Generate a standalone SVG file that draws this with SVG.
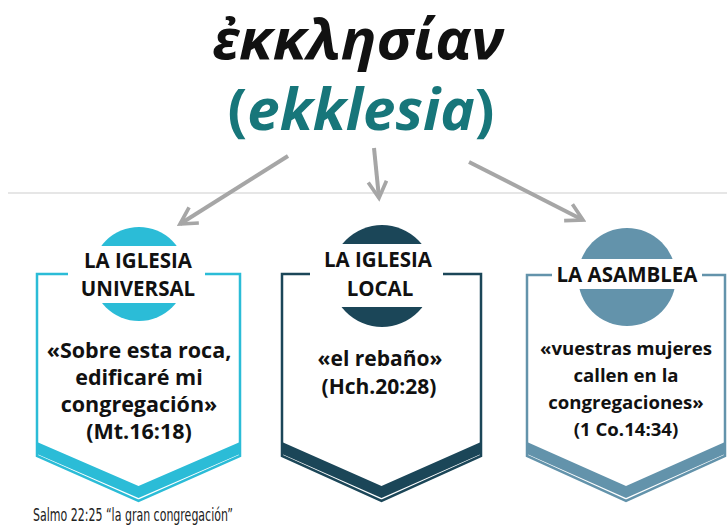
<svg xmlns="http://www.w3.org/2000/svg" width="727" height="529" viewBox="0 0 727 529">
<style>
.hd{font-family:"Open Sans","Noto Sans",sans-serif;font-weight:bold;font-size:20.5px;fill:#111;text-anchor:middle}
.bd{font-family:"Open Sans","Noto Sans",sans-serif;font-weight:bold;fill:#111;text-anchor:middle}
.b1{font-size:21.5px}
.b2{font-size:21px}
.b3{font-size:18.6px}
.frame{fill:none;stroke-width:2.5}
.arr{fill:none;stroke:#a6a6a6;stroke-width:4;stroke-linecap:butt}
</style>
<defs>
<marker id="ah" viewBox="0 0 12 12" refX="10" refY="6" markerWidth="5.5" markerHeight="5.5" orient="auto" markerUnits="strokeWidth">
<path d="M1,1 L10,6 L1,11" fill="none" stroke="#a6a6a6" stroke-width="2"/>
</marker>
</defs>
<rect width="727" height="529" fill="#fff"/>
<line x1="8" y1="193" x2="727" y2="193" stroke="#dedede" stroke-width="1.5"/>
<g id="title">
<text x="358" y="59" font-family="'Open Sans','Noto Sans',sans-serif" font-weight="bold" font-style="italic" font-size="55" fill="#111" text-anchor="middle" textLength="292" lengthAdjust="spacingAndGlyphs">ἐκκλησίαν</text>
<text x="361" y="130" font-family="'Open Sans','Noto Sans',sans-serif" font-weight="bold" font-size="57" fill="#17767a" text-anchor="middle" textLength="267" lengthAdjust="spacingAndGlyphs">(<tspan font-style="italic">ekklesia</tspan>)</text>
</g>
<g id="connectors">
<line class="arr" x1="288" y1="156" x2="180" y2="224" marker-end="url(#ah)"/>
<line class="arr" x1="374" y1="148" x2="379" y2="198" marker-end="url(#ah)"/>
<line class="arr" x1="469" y1="162" x2="583" y2="220" marker-end="url(#ah)"/>
</g>
<g id="node-universal">
<circle cx="139" cy="274" r="47" fill="#2bbcd7"/>
<rect x="68" y="246" width="137" height="57" fill="#fff"/>
<path class="frame" stroke="#2bbcd7" d="M68,274 H37 V456 L138.5,501 L240,456 V274 H205"/>
<polygon fill="#2bbcd7" points="37,442 138.5,486 240,442 240,454 138.5,498 37,454"/>
<text class="hd" x="138" y="268">LA IGLESIA</text>
<text class="hd" x="138" y="296">UNIVERSAL</text>
<text class="bd b1" x="139" y="358">«Sobre esta roca,</text>
<text class="bd b1" x="139" y="385">edificaré mi</text>
<text class="bd b1" x="139" y="412">congregación»</text>
<text class="bd b1" x="139" y="439">(Mt.16:18)</text>
</g>
<g id="node-local">
<circle cx="382" cy="276" r="51" fill="#1b4658"/>
<rect x="310" y="244" width="133" height="63" fill="#fff"/>
<path class="frame" stroke="#1b4658" d="M310,274 H282 V456 L381.5,501 L481,456 V274 H443"/>
<polygon fill="#1b4658" points="282,442 381.5,486 481,442 481,454 381.5,498 282,454"/>
<text class="hd" x="378" y="267">LA IGLESIA</text>
<text class="hd" x="380" y="296">LOCAL</text>
<text class="bd b2" x="380" y="366">«el rebaño»</text>
<text class="bd b2" x="379" y="394">(Hch.20:28)</text>
</g>
<g id="node-asamblea">
<circle cx="627" cy="277" r="49" fill="#6393ab"/>
<rect x="552" y="259" width="150" height="30" fill="#fff"/>
<path class="frame" stroke="#6393ab" d="M552,275 H527 V456 L626,501 L725,456 V275 H702"/>
<polygon fill="#6393ab" points="527,442 626,486 725,442 725,454 626,498 527,454"/>
<text class="hd" x="627" y="282">LA ASAMBLEA</text>
<text class="bd b3" x="626" y="355">«vuestras mujeres</text>
<text class="bd b3" x="626" y="382">callen en la</text>
<text class="bd b3" x="626" y="409">congregaciones»</text>
<text class="bd b3" x="626" y="436">(1 Co.14:34)</text>
</g>
<text x="33" y="521" font-family="'DejaVu Sans','Liberation Sans',sans-serif" font-size="18" fill="#222" textLength="200" lengthAdjust="spacingAndGlyphs">Salmo 22:25 “la gran congregación”</text>
</svg>
